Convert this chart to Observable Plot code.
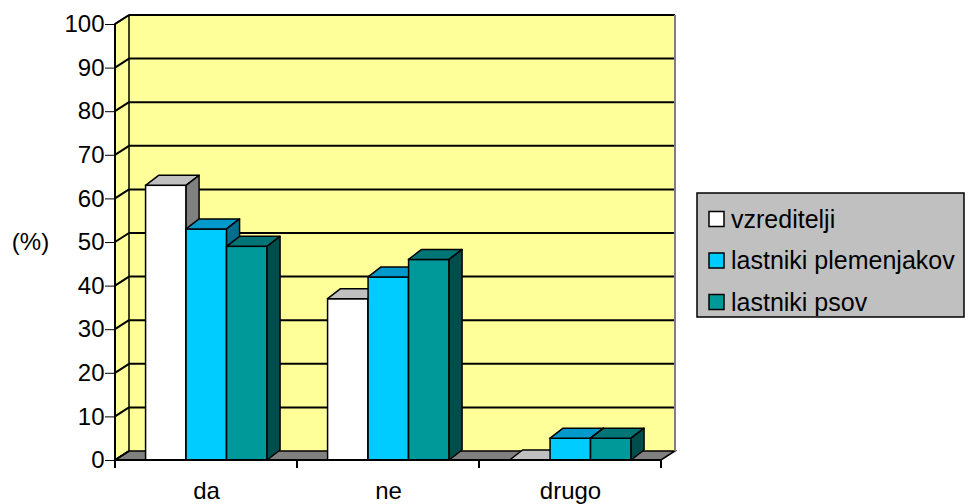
<!DOCTYPE html>
<html>
<head>
<meta charset="utf-8">
<script src="https://cdn.jsdelivr.net/npm/d3@7"></script>
<script src="https://cdn.jsdelivr.net/npm/@observablehq/plot@0.6"></script>
<style>
  html, body { margin: 0; padding: 0; background: #ffffff; }
</style>
</head>
<body>
<div id="chart"></div>
<script>
// ---- data ----
const categories = ["da", "ne", "drugo"];
const series = ["vzreditelji", "lastniki plemenjakov", "lastniki psov"];
const vzreditelji = [63, 37, 0];
const lastnikiPlemenjakov = [53, 42, 5];
const lastnikiPsov = [49, 46, 5];
const yTicks = [0, 10, 20, 30, 40, 50, 60, 70, 80, 90, 100];
const yLabel = "(%)";

// ---- styles ----
const palette = [
  {front: "#ffffff", top: "#c0c0c0", side: "#808080"},
  {front: "#00ccff", top: "#0099cc", side: "#006f8f"},
  {front: "#009999", top: "#007575", side: "#004d4d"}
];
const seriesValues = [vzreditelji, lastnikiPlemenjakov, lastnikiPsov];
const rows = [];
categories.forEach((c, ci) => series.forEach((s, si) => rows.push({cat: c, series: s, si, value: seriesValues[si][ci]})));

const FONT = "'Liberation Sans', Arial, sans-serif";
const WALL = {dx: 14, dy: -9};
const BAR = {dx: 13, dy: -10};

function pts(a) { return a.map(p => p[0] + "," + p[1]).join(" "); }

function scene(...args) {
  const s = (args[0] && typeof args[0].x === "function") ? args[0] : args[1];
  const x = s.x, y = s.y;
  const bw = typeof x.bandwidth === "function" ? x.bandwidth() : x.bandwidth;
  const xl = x(categories[0]);
  const xr = x(categories[categories.length - 1]) + bw;
  const yb = y(0), yt = y(yTicks[yTicks.length - 1]);
  const g = d3.create("svg:g");

  // back wall
  g.append("rect").attr("x", xl + WALL.dx).attr("y", yt + WALL.dy)
    .attr("width", xr - xl).attr("height", yb - yt).attr("fill", "#ffff99");
  // left side wall
  g.append("polygon").attr("points", pts([[xl, yt], [xl + WALL.dx, yt + WALL.dy], [xl + WALL.dx, yb + WALL.dy], [xl, yb]]))
    .attr("fill", "#ffff99").attr("stroke", "#000").attr("stroke-width", 1.5);
  // floor
  g.append("polygon").attr("points", pts([[xl, yb], [xr, yb], [xr + WALL.dx, yb + WALL.dy], [xl + WALL.dx, yb + WALL.dy]]))
    .attr("fill", "#808080").attr("stroke", "#000").attr("stroke-width", 1.5);
  // gridlines
  for (const t of yTicks) {
    const yy = y(t);
    g.append("line").attr("x1", xl).attr("y1", yy).attr("x2", xl + WALL.dx).attr("y2", yy + WALL.dy)
      .attr("stroke", "#000").attr("stroke-width", 2);
    if (t > 0) {
      g.append("line").attr("x1", xl + WALL.dx).attr("y1", yy + WALL.dy).attr("x2", xr + WALL.dx).attr("y2", yy + WALL.dy)
        .attr("stroke", "#000").attr("stroke-width", 2);
    }
  }
  // back wall right edge
  g.append("line").attr("x1", xr + WALL.dx).attr("y1", yt + WALL.dy).attr("x2", xr + WALL.dx).attr("y2", yb + WALL.dy)
    .attr("stroke", "#808080").attr("stroke-width", 2);

  // bars
  for (const r of rows) {
    const w = bw * 0.2225;
    const bx = x(r.cat) + bw * (0.168 + r.si * 0.2225);
    const top = y(r.value), bot = y(0);
    const col = palette[r.si];
    g.append("rect").attr("x", bx).attr("y", top).attr("width", w).attr("height", bot - top)
      .attr("fill", col.front).attr("stroke", "#000").attr("stroke-width", 1.5);
    g.append("polygon").attr("points", pts([[bx, top], [bx + w, top], [bx + w + BAR.dx, top + BAR.dy], [bx + BAR.dx, top + BAR.dy]]))
      .attr("fill", col.top).attr("stroke", "#000").attr("stroke-width", 1.5).attr("stroke-linejoin", "round");
    g.append("polygon").attr("points", pts([[bx + w, top], [bx + w + BAR.dx, top + BAR.dy], [bx + w + BAR.dx, bot + BAR.dy], [bx + w, bot]]))
      .attr("fill", col.side).attr("stroke", "#000").attr("stroke-width", 1.5).attr("stroke-linejoin", "round");
  }

  // axes lines
  g.append("line").attr("x1", xl).attr("y1", yt).attr("x2", xl).attr("y2", yb).attr("stroke", "#000").attr("stroke-width", 2);
  g.append("line").attr("x1", xl).attr("y1", yb).attr("x2", xr).attr("y2", yb).attr("stroke", "#000").attr("stroke-width", 2);
  const bounds = categories.map(c => x(c)).concat([xr]);
  for (const bxp of bounds) {
    g.append("line").attr("x1", bxp).attr("y1", yb).attr("x2", bxp).attr("y2", yb + 8).attr("stroke", "#000").attr("stroke-width", 2);
  }

  // legend
  const lg = g.append("g").attr("transform", "translate(697,193)");
  lg.append("rect").attr("width", 267).attr("height", 124).attr("fill", "#c0c0c0").attr("stroke", "#000").attr("stroke-width", 1.5);
  series.forEach((name, i) => {
    const cy = 26 + i * 41.5;
    lg.append("rect").attr("x", 12).attr("y", cy - 7.5).attr("width", 15).attr("height", 15)
      .attr("fill", palette[i].front).attr("stroke", "#000").attr("stroke-width", 1.5);
    lg.append("text").attr("x", 34).attr("y", cy).attr("dy", "0.35em")
      .attr("text-anchor", "start")
      .attr("font-size", 25).attr("font-family", FONT).attr("fill", "#000").text(name);
  });
  return g.node();
}

const chart = Plot.plot({
  width: 968,
  height: 504,
  marginLeft: 115,
  marginRight: 307,
  marginTop: 24,
  marginBottom: 44,
  style: {fontFamily: FONT, fontSize: "24px", background: "#ffffff", color: "#000"},
  x: {type: "band", domain: categories, padding: 0, tickSize: 0, tickPadding: 21, label: null},
  y: {domain: [0, 100], ticks: yTicks, tickSize: 10, tickPadding: 1, label: null},
  marks: [
    scene,
    Plot.dot(categories, {x: d => d, y: () => 0, r: 0}),
    Plot.text([yLabel], {frameAnchor: "left", dx: -85, text: d => d, fontSize: 24, textAnchor: "middle"})
  ]
});
document.getElementById("chart").appendChild(chart);
</script>
</body>
</html>
